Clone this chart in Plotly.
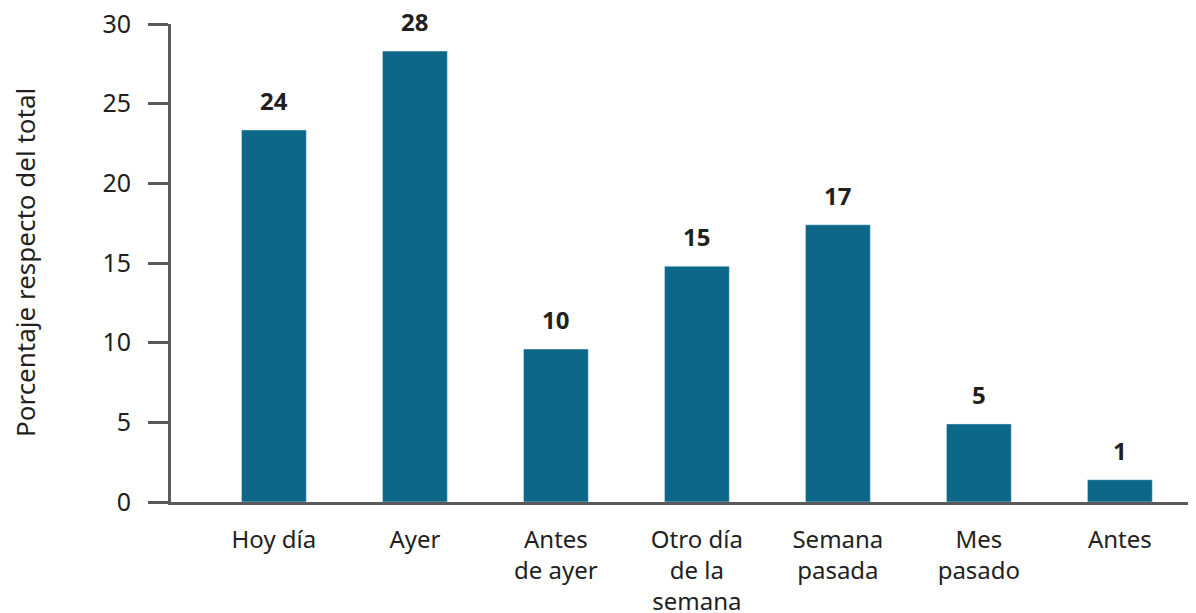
import plotly.graph_objects as go

categories = ["Hoy día", "Ayer", "Antes<br>de ayer", "Otro día<br>de la<br>semana",
              "Semana<br>pasada", "Mes<br>pasado", "Antes"]
values = [23.35, 28.3, 9.6, 14.8, 17.4, 4.9, 1.4]
labels = ["24", "28", "10", "15", "17", "5", "1"]
y_ticks = [0, 5, 10, 15, 20, 25, 30]

BAR = "#0c6789"
AXIS = "#5a5a5a"
TEXT = "#231f20"
FONT = "Noto Sans"

fig = go.Figure()
fig.add_trace(go.Bar(
    x=categories, y=values, marker_color=BAR, width=0.46,
    hoverinfo="skip", showlegend=False,
))

for c, v, t in zip(categories, values, labels):
    fig.add_annotation(x=c, y=v, text=f"<b>{t}</b>", showarrow=False,
                       yanchor="bottom", yshift=11,
                       font=dict(family=FONT, size=24, color=TEXT))

fig.add_annotation(xref="paper", yref="paper", x=-0.1424, y=0.5,
                   text="Porcentaje respecto del total", textangle=-90,
                   showarrow=False, xanchor="center", yanchor="middle",
                   font=dict(family=FONT, size=26, color=TEXT))

fig.update_layout(
    width=1188, height=605,
    margin=dict(l=163, r=0, t=16, b=111),
    paper_bgcolor="white", plot_bgcolor="white",
    font=dict(family=FONT, size=25, color=TEXT),
)
fig.update_xaxes(
    range=[-0.73, 6.54], showgrid=False, zeroline=False, automargin=False,
    showline=True, linecolor=AXIS, linewidth=3,
    ticks="", tickfont=dict(family=FONT, size=24, color=TEXT),
    ticklabelstandoff=14,
)
fig.update_yaxes(
    range=[0, 30], tickvals=y_ticks, showgrid=False, zeroline=False, automargin=False,
    showline=True, linecolor=AXIS, linewidth=3,
    ticks="outside", ticklen=20, tickwidth=3, tickcolor=AXIS,
    tickfont=dict(family=FONT, size=25, color=TEXT),
    ticklabelstandoff=12, ticklabeloverflow="allow",
)

fig.write_html("out.html")
